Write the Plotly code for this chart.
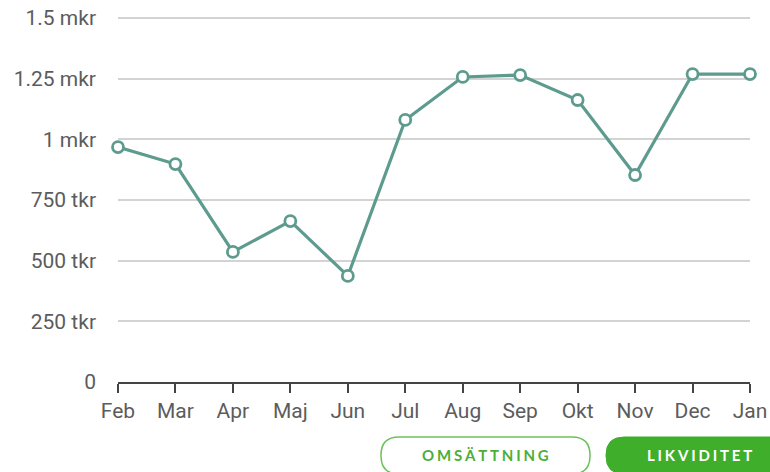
import plotly.graph_objects as go

months = ["Feb", "Mar", "Apr", "Maj", "Jun", "Jul", "Aug", "Sep", "Okt", "Nov", "Dec", "Jan"]
likviditet = [968000, 898000, 536000, 663000, 437000, 1080000, 1257000, 1265000, 1162000, 853000, 1269000, 1269000]
tick_vals = [0, 250000, 500000, 750000, 1000000, 1250000, 1500000]
tick_text = ["0", "250 tkr", "500 tkr", "750 tkr", "1 mkr", "1.25 mkr", "1.5 mkr"]
buttons = ["OMSÄTTNING", "LIKVIDITET"]

W, H = 770, 472
L, R, T, B = 118, 20, 15, 90
pw, ph = W - L - R, H - T - B
y_top = 1500000 * (1 + 3 / 364)

def px(x):
    return (x - L) / pw

def py(y):
    return (H - B - y) / ph

def rrect(x0, y0, x1, y1, r):
    pts = [
        f"M {px(x0 + r)},{py(y0)}",
        f"L {px(x1 - r)},{py(y0)}",
        f"Q {px(x1)},{py(y0)} {px(x1)},{py(y0 + r)}",
        f"L {px(x1)},{py(y1 - r)}",
        f"Q {px(x1)},{py(y1)} {px(x1 - r)},{py(y1)}",
        f"L {px(x0 + r)},{py(y1)}",
        f"Q {px(x0)},{py(y1)} {px(x0)},{py(y1 - r)}",
        f"L {px(x0)},{py(y0 + r)}",
        f"Q {px(x0)},{py(y0)} {px(x0 + r)},{py(y0)}",
        "Z",
    ]
    return " ".join(pts)

line_color = "#5e9b8f"
text_color = "#5c5c5c"

fig = go.Figure()
fig.add_trace(go.Scatter(
    x=months, y=likviditet, mode="lines+markers",
    line=dict(color=line_color, width=3.2),
    marker=dict(symbol="circle", size=11, color="white", line=dict(color=line_color, width=2.8)),
    hoverinfo="skip", cliponaxis=False,
))

fig.add_shape(type="path", xref="paper", yref="paper",
              path=rrect(381, 437, 590, 474, 18),
              line=dict(color="#6cc25a", width=1.5), fillcolor="white", layer="above")
fig.add_shape(type="path", xref="paper", yref="paper",
              path=rrect(606, 437, 800, 474, 18),
              line=dict(color="#3fae2a", width=1), fillcolor="#3fae2a", layer="above")

def spaced(s):
    return "\u2009\u200a".join(s)

fig.add_annotation(x=px(485.5), y=py(455), xref="paper", yref="paper", text="<b>" + spaced(buttons[0]) + "</b>",
                   showarrow=False, font=dict(family="Lato, Open Sans, sans-serif", size=15, color="#4caf3a"),
                   xanchor="center", yanchor="middle")
fig.add_annotation(x=px(699), y=py(455), xref="paper", yref="paper", text="<b>" + spaced(buttons[1]) + "</b>",
                   showarrow=False, font=dict(family="Lato, Open Sans, sans-serif", size=15, color="white"),
                   xanchor="center", yanchor="middle")

fig.update_layout(
    width=W, height=H,
    margin=dict(l=L, r=R, t=T, b=B, pad=0, autoexpand=False),
    paper_bgcolor="white", plot_bgcolor="white",
    showlegend=False,
    font=dict(family="Roboto, sans-serif", size=21, color=text_color),
    xaxis=dict(
        type="category", range=[0, len(months) - 1],
        showgrid=False, showline=True, linecolor="#444444", linewidth=2,
        ticks="outside", ticklen=9, tickwidth=1.5, tickcolor="#444444",
        tickfont=dict(size=21, color=text_color), zeroline=False, fixedrange=True,
        automargin=False,
    ),
    yaxis=dict(
        range=[0, y_top], tickvals=tick_vals, ticktext=tick_text,
        showgrid=True, gridcolor="#d3d3d3", gridwidth=2,
        showline=False, zeroline=False, ticks="", ticklabelstandoff=21,
        tickfont=dict(size=21, color=text_color), fixedrange=True,
        automargin=False,
    ),
)

fig.write_html("out.html", config={"displayModeBar": False},
               post_script="document.body.style.margin='0px';document.body.style.overflow='hidden';")
